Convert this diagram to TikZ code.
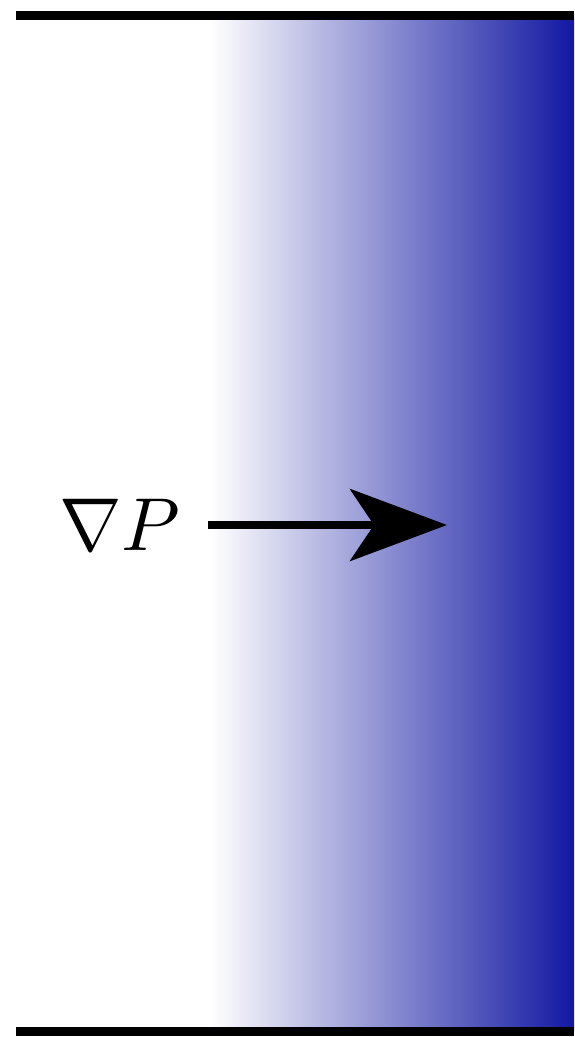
\documentclass[tikz,border=0pt]{standalone}
\usetikzlibrary{arrows.meta}
\definecolor{deepblue}{RGB}{18,24,162}
\tikzset{
  wall/.style={line width=9pt, black},
  flowarrow/.style={line width=8pt, -{Stealth[length=97pt, width=72pt, inset=24pt]}},
  lbl/.style={scale=7.5, inner sep=0pt}
}
\begin{document}
\begin{tikzpicture}[x=1pt, y=-1pt]
\useasboundingbox (0,0) rectangle (574,1037);
\shade[left color=white, right color=deepblue, shading=axis, shading angle=90] (210,15) rectangle (574,1031);
\draw[wall] (16,15) -- (574,15);
\draw[wall] (16,1031) -- (574,1031);
\node[lbl] (label) at (120,525) {$\nabla P$};
\coordinate (tail) at (208,525);
\coordinate (tip) at (447,525);
\draw[flowarrow] (tail) -- (tip);
\end{tikzpicture}
\end{document}
